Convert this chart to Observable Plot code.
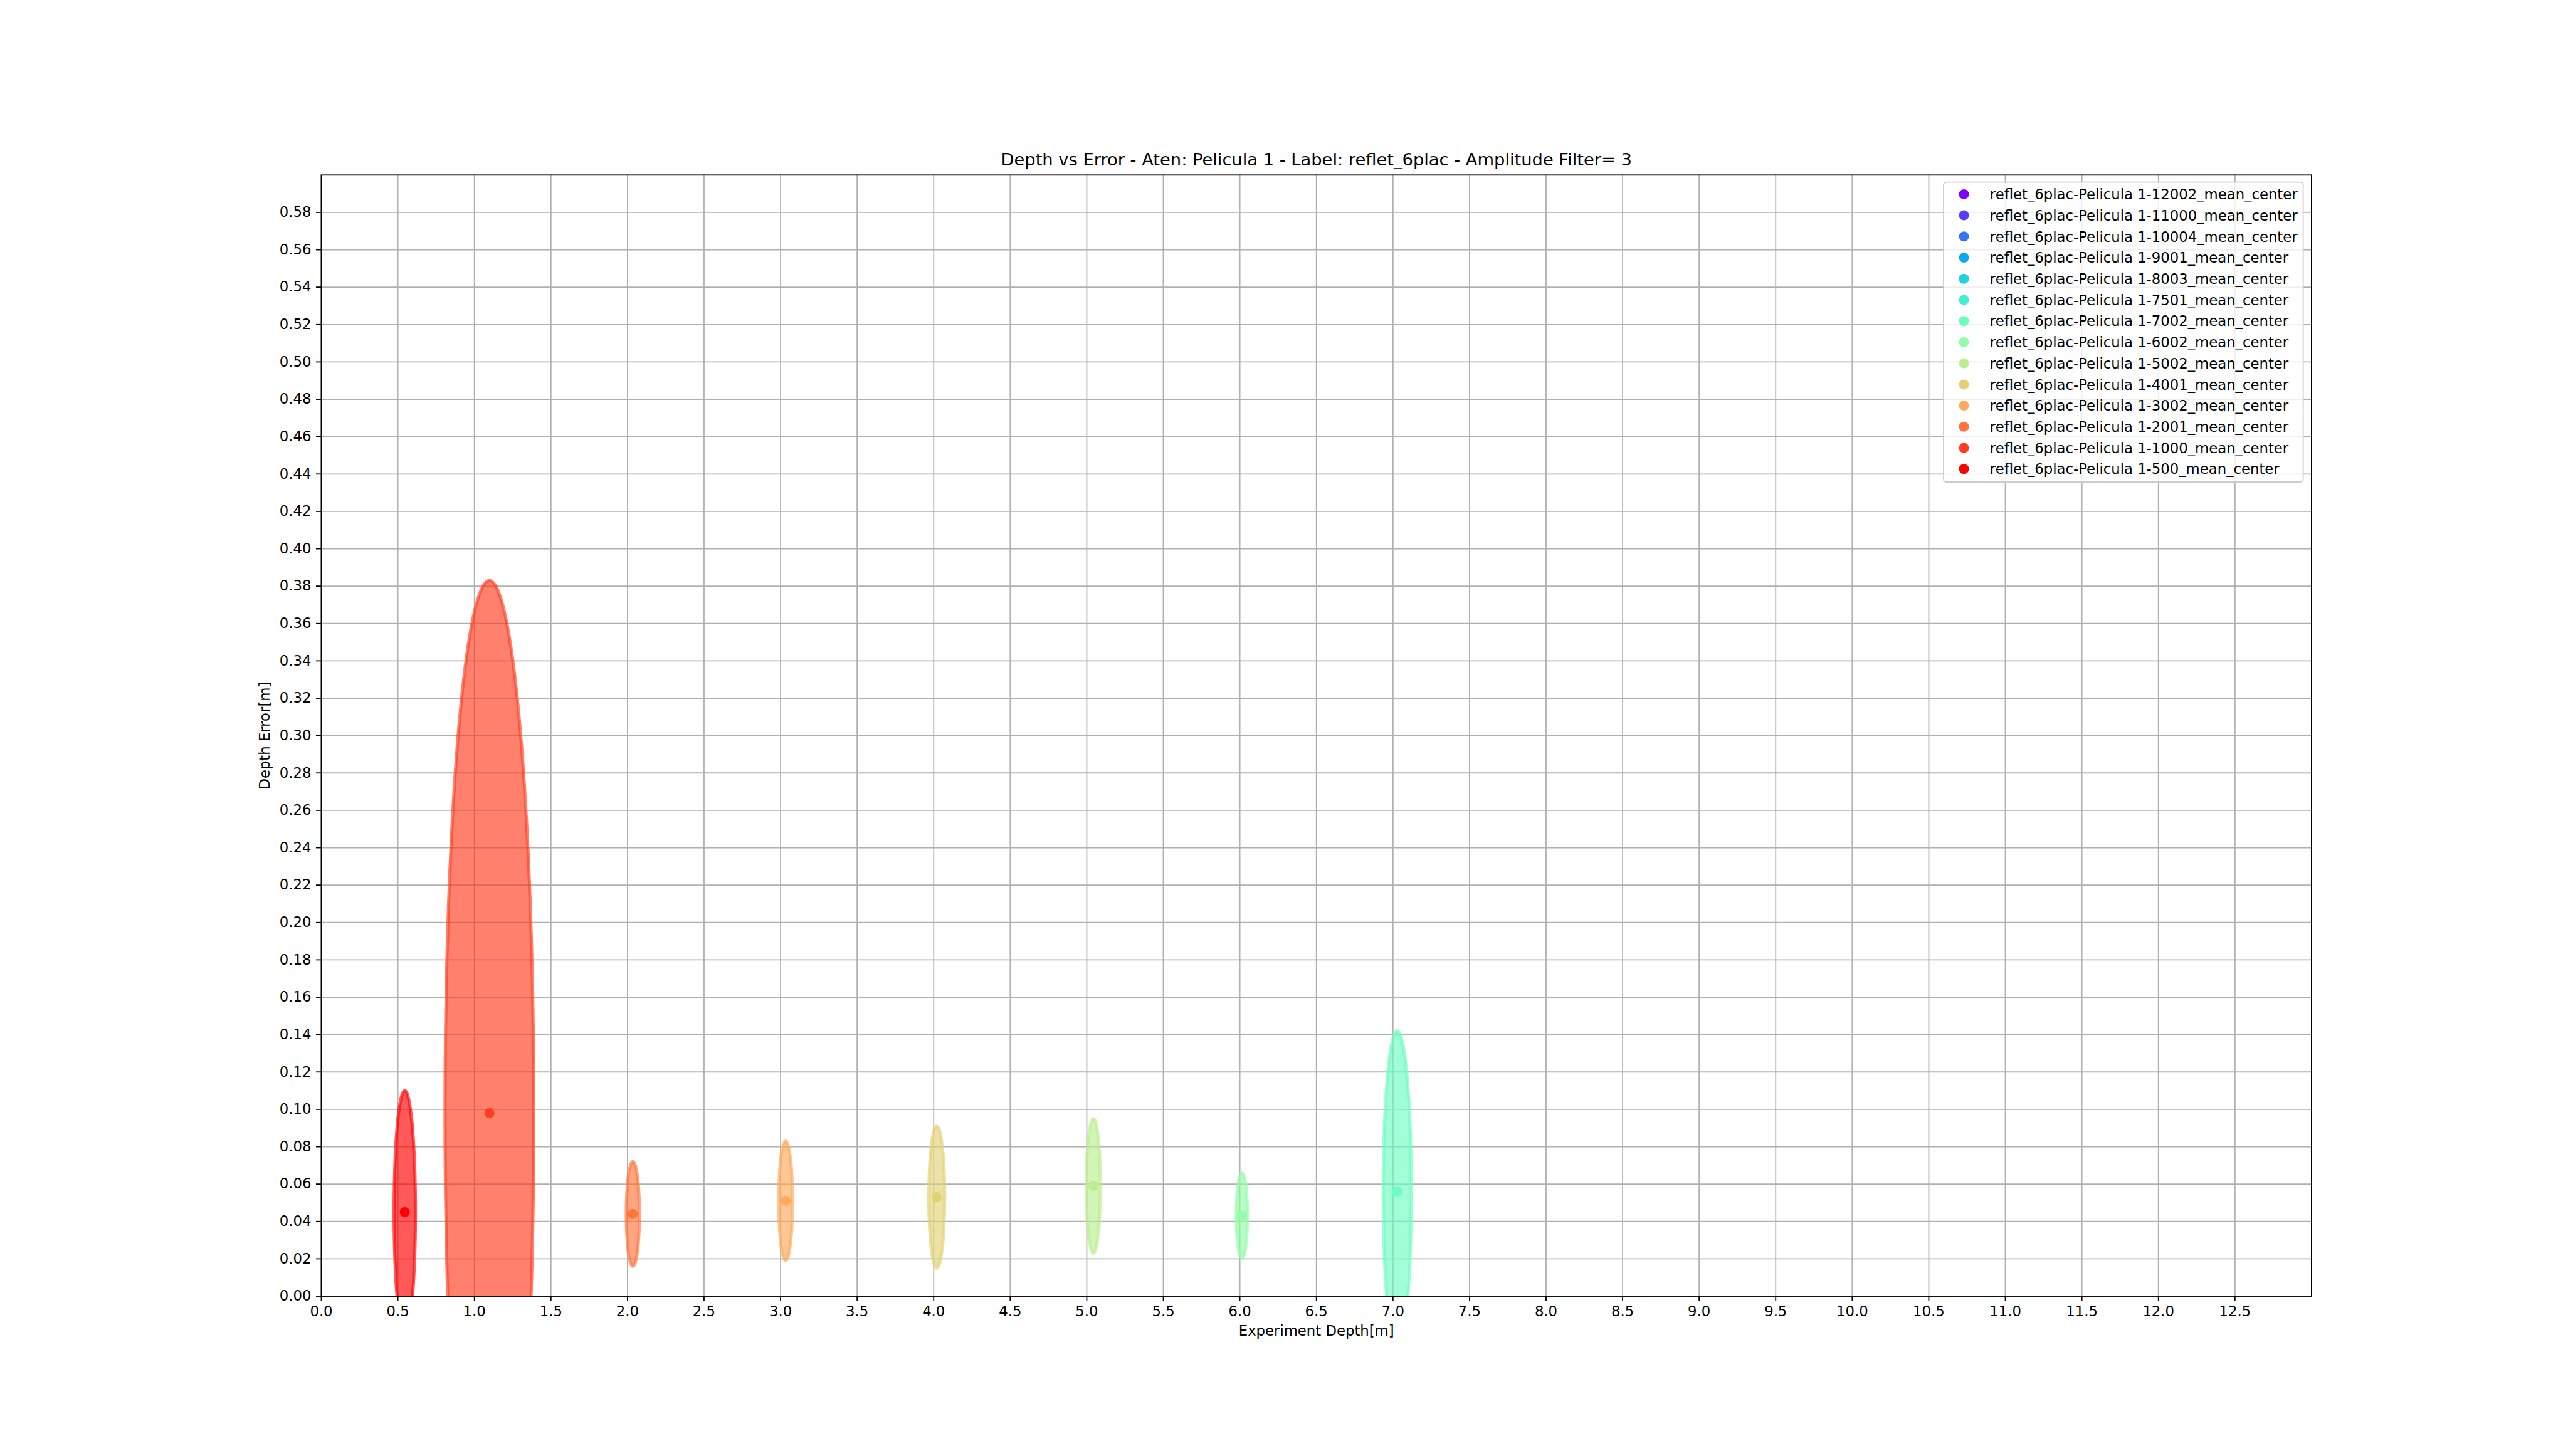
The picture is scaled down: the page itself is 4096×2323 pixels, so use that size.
<!DOCTYPE html>
<html>
<head>
<meta charset="utf-8">
<script src="https://cdn.jsdelivr.net/npm/d3@7"></script>
<script src="https://cdn.jsdelivr.net/npm/@observablehq/plot@0.6"></script>
<style>
  html, body { margin: 0; padding: 0; background: #ffffff; }
  #chart { width: 4096px; height: 2323px; }
  #chart svg { display: block; }
</style>
</head>
<body>
<div id="chart"></div>
<script>
// ---------- texts ----------
const titleText = "Depth vs Error - Aten: Pelicula 1 - Label: reflet_6plac - Amplitude Filter= 3";
const xLabelText = "Experiment Depth[m]";
const yLabelText = "Depth Error[m]";

// ---------- legend (all series, in legend order) ----------
const legendNames = [
  "reflet_6plac-Pelicula 1-12002_mean_center",
  "reflet_6plac-Pelicula 1-11000_mean_center",
  "reflet_6plac-Pelicula 1-10004_mean_center",
  "reflet_6plac-Pelicula 1-9001_mean_center",
  "reflet_6plac-Pelicula 1-8003_mean_center",
  "reflet_6plac-Pelicula 1-7501_mean_center",
  "reflet_6plac-Pelicula 1-7002_mean_center",
  "reflet_6plac-Pelicula 1-6002_mean_center",
  "reflet_6plac-Pelicula 1-5002_mean_center",
  "reflet_6plac-Pelicula 1-4001_mean_center",
  "reflet_6plac-Pelicula 1-3002_mean_center",
  "reflet_6plac-Pelicula 1-2001_mean_center",
  "reflet_6plac-Pelicula 1-1000_mean_center",
  "reflet_6plac-Pelicula 1-500_mean_center"
];
// rainbow palette (style)
const palette = [
  "#8000ff", "#583dfd", "#3176f8", "#0aa9ee", "#1dd2e2", "#45eed2", "#6cfdbf",
  "#93fda9", "#baee91", "#e2d276", "#ffa95a", "#ff763d", "#ff3d1f", "#ff0000"
];

// ---------- series drawn in the plot ----------
const seriesNames = [
  "reflet_6plac-Pelicula 1-500_mean_center",
  "reflet_6plac-Pelicula 1-1000_mean_center",
  "reflet_6plac-Pelicula 1-2001_mean_center",
  "reflet_6plac-Pelicula 1-3002_mean_center",
  "reflet_6plac-Pelicula 1-4001_mean_center",
  "reflet_6plac-Pelicula 1-5002_mean_center",
  "reflet_6plac-Pelicula 1-6002_mean_center",
  "reflet_6plac-Pelicula 1-7002_mean_center"
];
const meanDepth   = [0.545, 1.098, 2.035, 3.033, 4.020, 5.043, 6.013, 7.028];
const meanError   = [0.045, 0.098, 0.044, 0.051, 0.053, 0.059, 0.043, 0.056];
const depthSpread = [0.070, 0.290, 0.043, 0.045, 0.052, 0.046, 0.037, 0.092];
const errorSpread = [0.065, 0.285, 0.028, 0.032, 0.038, 0.036, 0.023, 0.086];

// ---------- ticks ----------
const xTicks = [0.0, 0.5, 1.0, 1.5, 2.0, 2.5, 3.0, 3.5, 4.0, 4.5, 5.0, 5.5, 6.0, 6.5,
                7.0, 7.5, 8.0, 8.5, 9.0, 9.5, 10.0, 10.5, 11.0, 11.5, 12.0, 12.5];
const yTicks = [0.00, 0.02, 0.04, 0.06, 0.08, 0.10, 0.12, 0.14, 0.16, 0.18, 0.20,
                0.22, 0.24, 0.26, 0.28, 0.30, 0.32, 0.34, 0.36, 0.38, 0.40, 0.42,
                0.44, 0.46, 0.48, 0.50, 0.52, 0.54, 0.56, 0.58];
const xDomain = [0, 13.0];
const yDomain = [0, 0.60];

// ---------- derived tables ----------
const centers = seriesNames.map((name, i) => ({name, depth: meanDepth[i], error: meanError[i]}));
const outline = seriesNames.flatMap((name, i) =>
  d3.range(0, 360, 1).map(deg => {
    const t = deg * Math.PI / 180;
    return {
      name,
      depth: meanDepth[i] + depthSpread[i] * Math.cos(t),
      error: meanError[i] + errorSpread[i] * Math.sin(t)
    };
  })
);

// ---------- layout (output px) ----------
const W = 4096, H = 2323;
const mL = 512, mR = W - 3686.4, mT = 278.8, mB = H - 2067.5;
const FS = 22.75;       // 10pt
const TFS = 27.3;       // 12pt
const LW = 1.82;        // 0.8pt
const gridColor = "#b0b0b0";
const alpha = 0.65;

const chart = Plot.plot({
  width: W,
  height: H,
  marginLeft: mL,
  marginRight: mR,
  marginTop: mT,
  marginBottom: mB,
  style: {fontFamily: "'DejaVu Sans', sans-serif", fontSize: FS + "px", background: "#ffffff", color: "#000000"},
  x: {domain: xDomain},
  y: {domain: yDomain},
  color: {type: "ordinal", domain: legendNames, range: palette},
  marks: [
    Plot.gridX(xTicks, {stroke: gridColor, strokeOpacity: 1, strokeWidth: LW}),
    Plot.gridY(yTicks, {stroke: gridColor, strokeOpacity: 1, strokeWidth: LW}),
    Plot.line(outline, {
      x: "depth", y: "error", z: "name", curve: "linear-closed",
      fill: "name", fillOpacity: alpha, stroke: "name", strokeOpacity: alpha,
      strokeWidth: 5, clip: true
    }),
    Plot.dot(centers, {x: "depth", y: "error", fill: "name", r: 8, stroke: null, clip: true}),
    Plot.frame({stroke: "#000000", strokeWidth: LW}),
    Plot.axisX(xTicks, {
      anchor: "bottom", tickSize: 8, tickPadding: 8, strokeWidth: LW,
      tickFormat: d3.format(".1f"), label: null, fontSize: FS
    }),
    Plot.axisY(yTicks, {
      anchor: "left", tickSize: 8, tickPadding: 8, strokeWidth: LW,
      tickFormat: d3.format(".2f"), label: null, fontSize: FS
    }),
    Plot.text([titleText], {frameAnchor: "top", textAnchor: "middle", lineAnchor: "middle", dy: -24, fontSize: TFS, text: d => d}),
    Plot.text([xLabelText], {frameAnchor: "bottom", textAnchor: "middle", lineAnchor: "middle", dy: 55.5, fontSize: FS, text: d => d}),
    Plot.text([yLabelText], {frameAnchor: "left", textAnchor: "middle", lineAnchor: "middle", rotate: -90, dx: -90, fontSize: FS, text: d => d})
  ]
});

document.getElementById("chart").appendChild(chart);

// ---------- legend (inside the axes, upper right) ----------
const svg = d3.select(chart);
const lgX = 3100, lgY = 290.6, lgW = 573.6, lgH = 478.4;
const rowY0 = 309.9, rowStep = 33.72, markX = 3132.5, textX = 3173.8;
const lg = svg.append("g").attr("class", "legend");
lg.append("rect")
  .attr("x", lgX).attr("y", lgY).attr("width", lgW).attr("height", lgH)
  .attr("rx", 4.5).attr("ry", 4.5)
  .attr("fill", "#ffffff").attr("fill-opacity", 0.8)
  .attr("stroke", "#cccccc").attr("stroke-width", LW);
const rows = lg.selectAll("g.row").data(legendNames).join("g").attr("class", "row")
  .attr("transform", (d, i) => `translate(0,${rowY0 + i * rowStep})`);
rows.append("circle").attr("cx", markX).attr("cy", 0).attr("r", 8)
  .attr("fill", (d, i) => palette[i]);
rows.append("text").attr("x", textX).attr("y", 0).attr("dy", "0.36em")
  .attr("text-anchor", "start")
  .attr("font-size", FS).attr("font-family", "'DejaVu Sans', sans-serif")
  .attr("fill", "#000000").text(d => d);
</script>
</body>
</html>
